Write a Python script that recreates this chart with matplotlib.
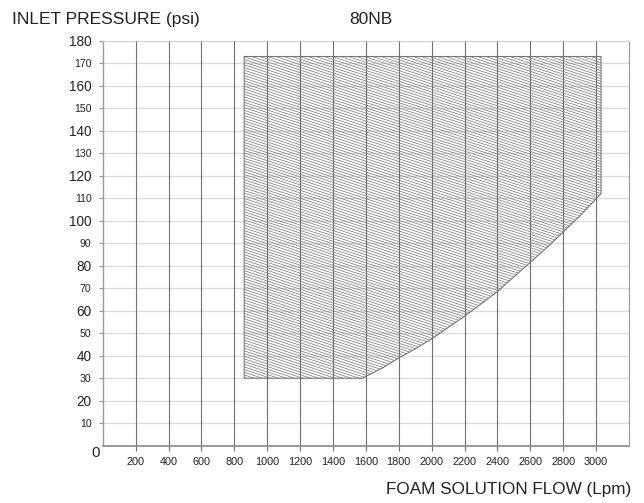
#!/usr/bin/env python3
import numpy as np
import matplotlib
matplotlib.use("Agg")
import matplotlib.pyplot as plt
from matplotlib.patches import Polygon
from matplotlib.collections import LineCollection

plt.rcParams["font.family"] = ["Liberation Sans", "DejaVu Sans"]

# --- data
flow_min = 860          # left edge of operating envelope [Lpm]
flow_max = 3030         # right edge [Lpm]
p_min = 30              # bottom of envelope [psi]
p_max = 173             # top of envelope [psi]
# lower-right boundary curve (flow, pressure)
curve_flow = [1580, 1700, 1800, 1900, 2000, 2100, 2200, 2300, 2400,
              2500, 2600, 2700, 2800, 2900, 3030]
curve_psi = [30, 34.5, 39, 43, 47.5, 52.5, 57.5, 63, 68.5,
             75, 81.5, 88, 95, 102, 112]

x_ticks = [200, 400, 600, 800, 1000, 1200, 1400, 1600, 1800, 2000,
           2200, 2400, 2600, 2800, 3000]
y_ticks = [10, 20, 30, 40, 50, 60, 70, 80, 90, 100, 110, 120, 130, 140,
           150, 160, 170, 180]

TXT = "#222222"

fig = plt.figure(figsize=(6.44, 5.03), dpi=100)
ax = fig.add_axes([0.1595, 0.1139, 0.8172, 0.8052])
ax.set_xlim(0, 3200)
ax.set_ylim(0, 180)

# grid: light horizontal, darker vertical
for y in y_ticks[:-1]:
    ax.axhline(y, color="#dadada", lw=0.9, zorder=0.5)
ax.vlines(x_ticks, 0, 180, color="#707070", lw=0.8, zorder=3)

# envelope polygon
verts = [(flow_min, p_min)] + list(zip(curve_flow, curve_psi)) + \
        [(flow_max, p_max), (flow_min, p_max)]
poly = Polygon(verts, closed=True, facecolor="none", edgecolor="#6a6a6a",
               lw=0.7, zorder=2)
ax.add_patch(poly)

# shallow diagonal hatching, clipped to the envelope
k = 0.43            # drop across the axes width (axes fraction)
step = 0.0066       # vertical spacing (axes fraction)
offs = np.arange(0, 1 + k + step, step)
segs = [[(0, c), (1, c - k)] for c in offs]
hatch = LineCollection(segs, colors="#8a8a8a", linewidths=0.6,
                       transform=ax.transAxes, zorder=1)
ax.add_collection(hatch)
hatch.set_clip_path(poly)

# spines
for side in ["left", "right", "bottom"]:
    ax.spines[side].set_color("#9a9a9a")
ax.spines["top"].set_color("#d0d0d0")
ax.spines["bottom"].set_linewidth(1.4)
ax.spines["left"].set_linewidth(1.0)

ax.set_xticks(x_ticks)
ax.set_xticklabels([str(v) for v in x_ticks])
ax.tick_params(axis="x", direction="out", length=3.8, width=0.8,
               color="#707070", pad=4.0, labelsize=7.8, labelcolor=TXT)

ax.set_yticks(y_ticks)
ax.set_yticklabels([str(v) for v in y_ticks])
ax.tick_params(axis="y", direction="out", length=3.1, width=0.8,
               color="#909090", pad=5.0, labelcolor=TXT)
for v, lab in zip(y_ticks, ax.get_yticklabels()):
    lab.set_fontsize(9.8 if v % 20 == 0 else 7.6)

ax.text(-0.0127, -0.019, "0", transform=ax.transAxes, ha="center",
        va="center", fontsize=11, color=TXT)

fig.text(0.0194, 0.962, "INLET PRESSURE (psi)", ha="left", va="center",
         fontsize=12.5, color=TXT)
fig.text(0.5758, 0.962, "80NB", ha="center", va="center",
         fontsize=12.5, color=TXT)
fig.text(0.98, 0.027, "FOAM SOLUTION FLOW (Lpm)", ha="right", va="center",
         fontsize=12.3, color=TXT)

fig.savefig("out.png", dpi=100)
